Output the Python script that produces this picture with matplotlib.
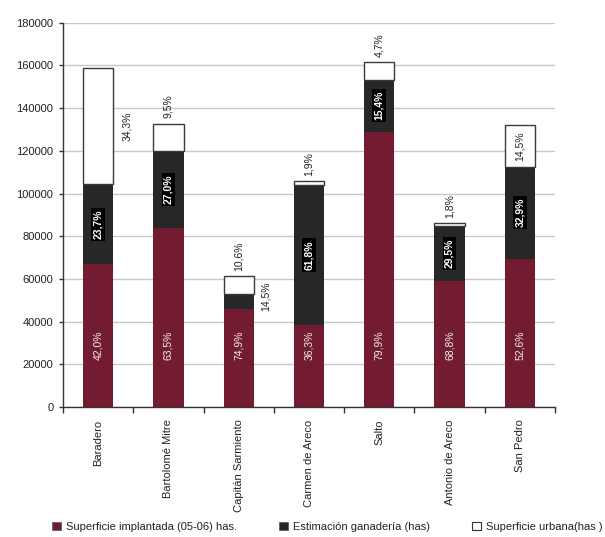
import matplotlib
matplotlib.use("Agg")
import matplotlib.pyplot as plt
from matplotlib.patches import Patch
import numpy as np

plt.rcParams['font.family'] = ['Liberation Sans', 'DejaVu Sans']

categories = ["Baradero", "Bartolomé Mitre", "Capitán Sarmiento", "Carmen de Areco",
              "Salto", "Antonio de Areco", "San Pedro"]
implantada = [66800, 84000, 46100, 38500, 129000, 59200, 69400]
ganaderia = [37600, 35900, 6800, 65500, 24300, 25400, 43200]
urbana = [54600, 12800, 8400, 1800, 8200, 1400, 19400]
pct_impl = ["42,0%", "63,5%", "74,9%", "36,3%", "79,9%", "68,8%", "52,6%"]
pct_gan = ["23,7%", "27,0%", "14,5%", "61,8%", "15,4%", "29,5%", "32,9%"]
pct_urb = ["34,3%", "9,5%", "10,6%", "1,9%", "4,7%", "1,8%", "14,5%"]
legend_labels = ["Superficie implantada (05-06) has.", "Estimación ganadería (has)",
                 "Superficie urbana(has )"]
yticks = [0, 20000, 40000, 60000, 80000, 100000, 120000, 140000, 160000, 180000]

c_impl = "#731c31"
c_gan = "#272727"
c_urb = "#ffffff"

fig = plt.figure(figsize=(6.05, 5.37), dpi=100)
ax = fig.add_axes([63/605, 1-407/537, (555-63)/605, (407-22.7)/537])

x = np.arange(len(categories))
w = 0.43
impl = np.array(implantada)
gan = np.array(ganaderia)
urb = np.array(urbana)

ax.bar(x, impl, w, color=c_impl, zorder=3)
ax.bar(x, gan, w, bottom=impl, color=c_gan, zorder=3)
ax.bar(x, urb, w, bottom=impl+gan, color=c_urb, edgecolor="#3a3a3a", linewidth=1.0, zorder=3)

ax.set_xlim(-0.5, len(categories)-0.5)
ax.set_ylim(0, 180000)
ax.set_yticks(yticks)
ax.set_yticklabels([str(v) for v in yticks], fontsize=8, color="#222222")
ax.yaxis.grid(True, color="#c8c8c8", linewidth=1.0, zorder=0)
ax.set_axisbelow(True)
for s in ["top", "right"]:
    ax.spines[s].set_visible(False)
for s in ["left", "bottom"]:
    ax.spines[s].set_color("#333333")
    ax.spines[s].set_linewidth(1.0)
ax.tick_params(axis='y', length=3, width=1, color="#333333", pad=4)

ax.set_xticks(x)
ax.set_xticklabels(categories, rotation=90, fontsize=8, color="#222222", va="top")
ax.tick_params(axis='x', which='major', length=0, pad=9)
ax.set_xticks(np.arange(-0.5, len(categories)), minor=True)
ax.tick_params(axis='x', which='minor', length=4, width=1, color="#333333")

# labels on implantada
for i in range(len(categories)):
    ax.text(x[i], 29000, pct_impl[i], rotation=90, ha="center", va="center",
            fontsize=7.5, color="#f4eef0", zorder=5)

# labels on ganaderia
for i in range(len(categories)):
    mid = impl[i] + gan[i]/2
    if i == 2:
        ax.text(x[i] + 0.39, mid + 2500, pct_gan[i], rotation=90, ha="center", va="center",
                fontsize=7.5, color="#222222", zorder=5)
    else:
        ax.text(x[i], mid, pct_gan[i], rotation=90, ha="center", va="center",
                fontsize=7.5, color="white", fontweight="bold", zorder=5,
                bbox=dict(boxstyle="square,pad=0.18", facecolor="black", edgecolor="none"))

# labels on urbana
for i in range(len(categories)):
    top = impl[i] + gan[i] + urb[i]
    mid = impl[i] + gan[i] + urb[i]/2
    if i == 0:
        ax.text(x[i] + 0.41, mid, pct_urb[i], rotation=90, ha="center", va="center",
                fontsize=7.5, color="#222222", zorder=5)
    elif i == 6:
        ax.text(x[i], mid, pct_urb[i], rotation=90, ha="center", va="center",
                fontsize=7.5, color="#222222", zorder=5)
    else:
        ax.annotate(pct_urb[i], (x[i], top), xytext=(0, 4), textcoords="offset points",
                    rotation=90, ha="center", va="bottom", fontsize=7.5, color="#222222",
                    zorder=5)

# legend
handles = [Patch(facecolor=c_impl, edgecolor="#555555", linewidth=0.5),
           Patch(facecolor=c_gan, edgecolor="#555555", linewidth=0.5),
           Patch(facecolor=c_urb, edgecolor="#333333", linewidth=0.8)]
xs = [52, 279, 472]
for h, lab, xp in zip(handles, legend_labels, xs):
    fig.legend([h], [lab], loc="center left", bbox_to_anchor=(xp/605, 1-527/537),
               frameon=False, fontsize=8, handlelength=0.8, handleheight=0.8,
               handletextpad=0.5, borderpad=0, borderaxespad=0, labelcolor="#222222")

fig.savefig("out.png", dpi=100, facecolor="white")
